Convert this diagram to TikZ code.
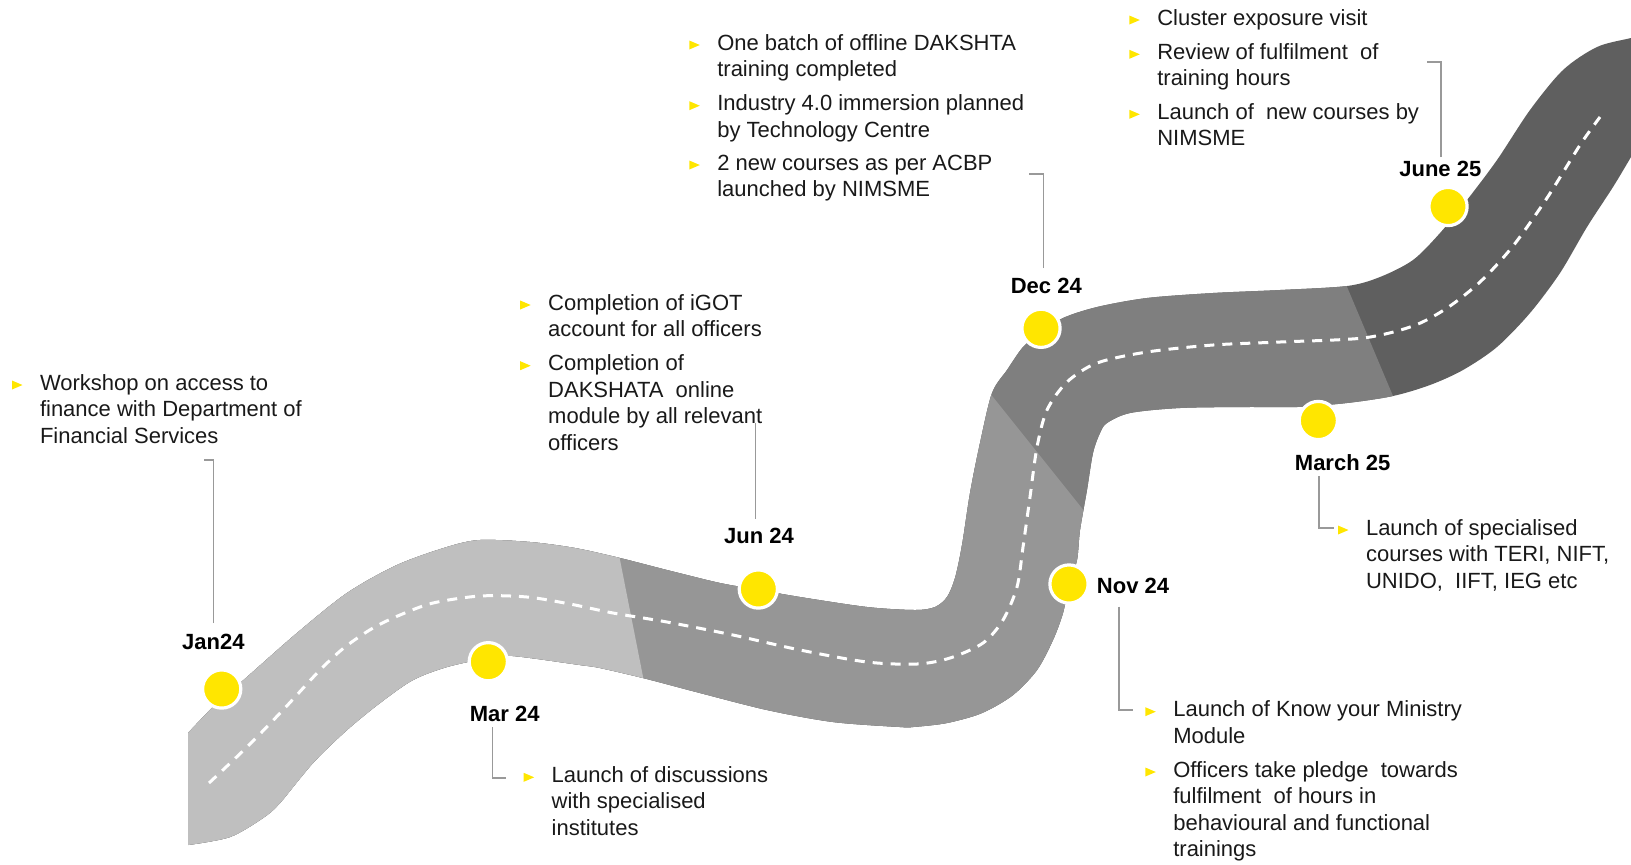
\documentclass[tikz,border=0pt]{standalone}
\usepackage{fontspec}
\setmainfont{Liberation Sans}
\usetikzlibrary{calc}
\definecolor{eyy}{HTML}{FFE600}
\definecolor{roadA}{HTML}{BFBFBF}
\definecolor{roadB}{HTML}{969696}
\definecolor{roadC}{HTML}{7F7F7F}
\definecolor{roadD}{HTML}{5F5F5F}
\newcommand\roadfill[1]{\fill[#1] plot[smooth] coordinates {(188,733) (215,705) (247,677) (297,633) (347,593) (397,565) (447,547) (480,540) (530,542) (575,548) (620,558) (667,570) (720,583) (760,590) (800,597) (867,607) (915,610) (935,607) (947,597) (955,578) (962,545) (970,493) (980,443) (992,393) (1007,370) (1023,347) (1040,333) (1063,318) (1097,307) (1147,298) (1213,293) (1280,290) (1347,286) (1380,277) (1413,260) (1440,233) (1467,200) (1497,160) (1530,110) (1563,70) (1597,47) (1631,38) (1665,30)}
  -- plot[smooth] coordinates {(1660,108) (1631,157) (1613,187) (1587,227) (1560,273) (1530,313) (1497,347) (1463,370) (1430,385) (1393,396) (1347,403) (1297,407) (1247,407) (1180,408) (1130,413) (1107,423) (1100,433) (1093,453) (1087,490) (1080,530) (1077,560) (1069,585) (1063,613) (1053,640) (1037,670) (1013,695) (982,713) (947,723) (913,727) (900,727) (833,722) (767,710) (700,693) (643,678) (600,668) (580,665) (513,656) (488,658) (447,667) (413,680) (380,703) (347,730) (313,763) (280,803) (263,818) (230,837) (188,845)} -- cycle;}
\newcommand\tri[1]{\fill[bul] ([shift={(-28,-9.5)}]#1.base west) -- ++(10.5,4.5) -- ++(-10.5,4.5) -- cycle;}
\begin{document}
\begin{tikzpicture}[x=0.5pt,y=-0.5pt,
  txt/.style={anchor=base west,inner sep=0pt,outer sep=0pt,text=black!90,font=\fontsize{11}{13.3}\selectfont},
  lbl/.style={anchor=base,inner sep=0pt,outer sep=0pt,text=black,font=\fontsize{11}{13.3}\selectfont\bfseries},
  dot/.style={circle,fill=eyy,draw=white,line width=1.6pt,minimum size=19.1pt,inner sep=0pt},
  conn/.style={draw=black!40,line width=0.6pt},
  bul/.style={fill=eyy},
  dashes/.style={draw=white,line width=1.5pt,dash pattern=on 5pt off 4pt}]
\useasboundingbox (0,0) rectangle (1631,864);
\begin{scope}
\clip (0,0) rectangle (1631,864);
\roadfill{roadD}
\begin{scope}\clip (0,0) -- (1226.3,0) -- (1590,864) -- (0,864) -- cycle; \roadfill{roadC}\end{scope}
\begin{scope}\clip (0,0) -- (675.4,0) -- (1366.6,864) -- (0,864) -- cycle; \roadfill{roadB}\end{scope}
\begin{scope}\clip (0,0) -- (509.7,0) -- (679.9,864) -- (0,864) -- cycle; \roadfill{roadA}\end{scope}
\draw[dashes] plot[smooth] coordinates {(209,783) (247,747) (283,710) (320,670) (345,647) (373,628) (400,615) (433,603) (480,596) (527,597) (570,604) (613,613) (667,622) (733,635) (800,650) (867,662) (917,664) (950,658) (983,643) (1003,620) (1017,587) (1023,547) (1030,497) (1037,447) (1047,410) (1067,382) (1097,363) (1147,352) (1213,345) (1280,342) (1363,338) (1413,326) (1447,308) (1480,282) (1513,246) (1547,198) (1580,145) (1600,117)};
\end{scope}
% milestones
\node[dot] (cJan) at (221.7,689) {};
\node[dot] (cMar) at (488.3,661.7) {};
\node[dot] (cJun) at (758.3,589) {};
\node[dot] (cDec) at (1041,328.3) {};
\node[dot] (cNov) at (1069,584) {};
\node[dot] (cMarch) at (1318.3,420.5) {};
\node[dot] (cJune) at (1448,206.5) {};
% labels
\node[lbl] (lJan) at (213.3,649.3) {Jan24};
\node[lbl] (lMar) at (504.7,721) {Mar 24};
\node[lbl] (lJun) at (759,543.3) {Jun 24};
\node[lbl] (lDec) at (1046.3,293.3) {Dec 24};
\node[lbl] (lNov) at (1133,593.3) {Nov 24};
\node[lbl] (lMarch) at (1342.6,470) {March 25};
\node[lbl] (lJune) at (1440.3,176.7) {June 25};
% texts
\node[txt] (tA) at (40,390) {\begin{tabular}[t]{@{}l@{}}Workshop on access to\\finance with Department of\\Financial Services\end{tabular}};
\node[txt] (tB) at (551.7,782.3) {\begin{tabular}[t]{@{}l@{}}Launch of discussions\\with specialised\\institutes\end{tabular}};
\node[txt] (tC1) at (548.2,310) {\begin{tabular}[t]{@{}l@{}}Completion of iGOT\\account for all officers\end{tabular}};
\node[txt] (tC2) at (548.2,370.7) {\begin{tabular}[t]{@{}l@{}}Completion of\\DAKSHATA\ \ online\\module by all relevant\\officers\end{tabular}};
\node[txt] (tD1) at (717.3,50) {\begin{tabular}[t]{@{}l@{}}One batch of offline DAKSHTA\\training completed\end{tabular}};
\node[txt] (tD2) at (717.3,110.7) {\begin{tabular}[t]{@{}l@{}}Industry 4.0 immersion planned\\by Technology Centre\end{tabular}};
\node[txt] (tD3) at (717.3,170) {\begin{tabular}[t]{@{}l@{}}2 new courses as per ACBP\\launched by NIMSME\end{tabular}};
\node[txt] (tE1) at (1173.3,716.7) {\begin{tabular}[t]{@{}l@{}}Launch of Know your Ministry\\Module\end{tabular}};
\node[txt] (tE2) at (1173.3,777) {\begin{tabular}[t]{@{}l@{}}Officers take pledge\ \ towards\\fulfilment\ \ of hours in\\behavioural and functional\\trainings\end{tabular}};
\node[txt] (tF) at (1366,535) {\begin{tabular}[t]{@{}l@{}}Launch of specialised\\courses with TERI, NIFT,\\UNIDO,\ \ IIFT, IEG etc\end{tabular}};
\node[txt] (tG1) at (1157.3,25) {\begin{tabular}[t]{@{}l@{}}Cluster exposure visit\end{tabular}};
\node[txt] (tG2) at (1157.3,59.3) {\begin{tabular}[t]{@{}l@{}}Review of fulfilment\ \ of\\training hours\end{tabular}};
\node[txt] (tG3) at (1157.3,119.3) {\begin{tabular}[t]{@{}l@{}}Launch of\ \ new courses by\\NIMSME\end{tabular}};
% bullets
\tri{tA}\tri{tB}\tri{tC1}\tri{tC2}\tri{tD1}\tri{tD2}\tri{tD3}\tri{tE1}\tri{tE2}\tri{tF}\tri{tG1}\tri{tG2}\tri{tG3}
% connectors
\coordinate (kJa) at (204,460);
\coordinate (kJb) at (213.3,623);
\draw[conn] (kJb) |- (kJa);
\coordinate (kMa) at (492.7,727);
\coordinate (kMb) at (506,778);
\draw[conn] (kMa) |- (kMb);
\coordinate (kUa) at (755.7,423);
\coordinate (kUb) at (755.7,519);
\draw[conn] (kUa) -- (kUb);
\coordinate (kDa) at (1029,174);
\coordinate (kDb) at (1043.5,268);
\draw[conn] (kDb) |- (kDa);
\coordinate (kNa) at (1119,606.5);
\coordinate (kNb) at (1133,710);
\draw[conn] (kNa) |- (kNb);
\coordinate (kRa) at (1319,476);
\coordinate (kRb) at (1334,528);
\draw[conn] (kRa) |- (kRb);
\coordinate (kEa) at (1427,62);
\coordinate (kEb) at (1441,157);
\draw[conn] (kEb) |- (kEa);
\end{tikzpicture}
\end{document}
